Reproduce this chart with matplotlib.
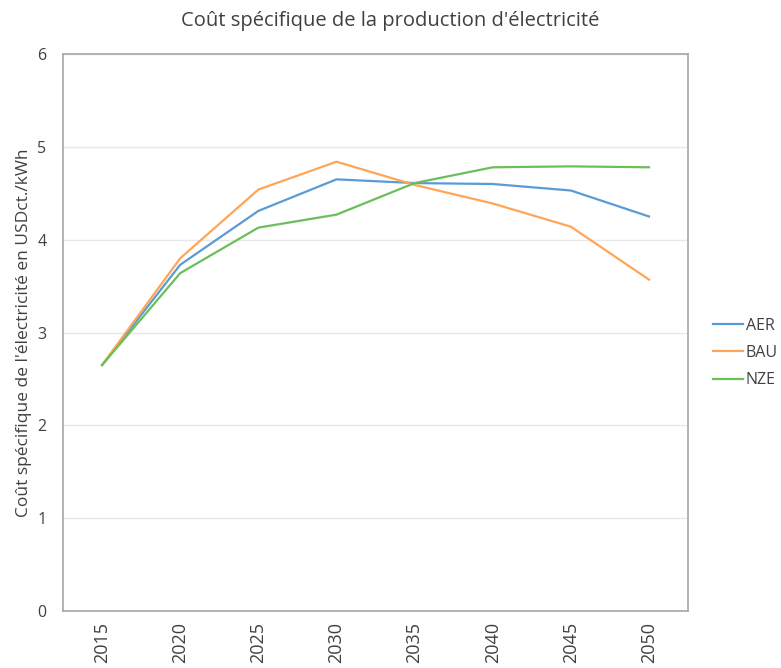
import matplotlib
matplotlib.use("Agg")
import matplotlib.pyplot as plt

plt.rcParams['font.family'] = ['Open Sans', 'DejaVu Sans']

years = ['2015', '2020', '2025', '2030', '2035', '2040', '2045', '2050']
aer = [2.65, 3.73, 4.31, 4.65, 4.61, 4.60, 4.53, 4.25]
bau = [2.65, 3.80, 4.54, 4.84, 4.59, 4.39, 4.14, 3.57]
nze = [2.65, 3.64, 4.13, 4.27, 4.61, 4.78, 4.79, 4.78]
series = [('AER', aer, '#5B9BD5'), ('BAU', bau, '#FFA556'), ('NZE', nze, '#6ABF5A')]

fig = plt.figure(figsize=(7.81, 6.68), dpi=100)
ax = fig.add_axes([0.0807, 0.0853, 0.8003, 0.8338])
x = list(range(len(years)))
for name, vals, col in series:
    ax.plot(x, vals, color=col, lw=1.6, label=name)

ax.set_xlim(-0.5, len(years) - 0.5)
ax.set_ylim(0, 6)
ax.set_yticks(range(0, 7))
ax.set_xticks(x)
ax.set_xticklabels(years, rotation=90)
ax.tick_params(axis='both', length=0, colors='#404040')
ax.tick_params(axis='y', pad=12, labelsize=11.5)
ax.tick_params(axis='x', pad=8, labelsize=13)
ax.grid(axis='y', color='#E8E8E8', lw=1)
ax.set_axisbelow(True)
for s in ax.spines.values():
    s.set_color('#A6A6A6')
    s.set_linewidth(1.2)

ax.set_ylabel("Coût spécifique de l'électricité en USDct./kWh", fontsize=12.5, color='#404040', labelpad=4)
fig.text(0.5, 0.969, "Coût spécifique de la production d'électricité", ha='center', va='center',
         fontsize=14.5, color='#404040')

leg = ax.legend(loc='center left', bbox_to_anchor=(0.913, 0.4716), bbox_transform=fig.transFigure,
                frameon=False, fontsize=11.5, borderpad=0, borderaxespad=0,
                handlelength=1.85, handletextpad=0.2, labelspacing=0.7, labelcolor='#404040')

fig.savefig('out.png', dpi=100)
